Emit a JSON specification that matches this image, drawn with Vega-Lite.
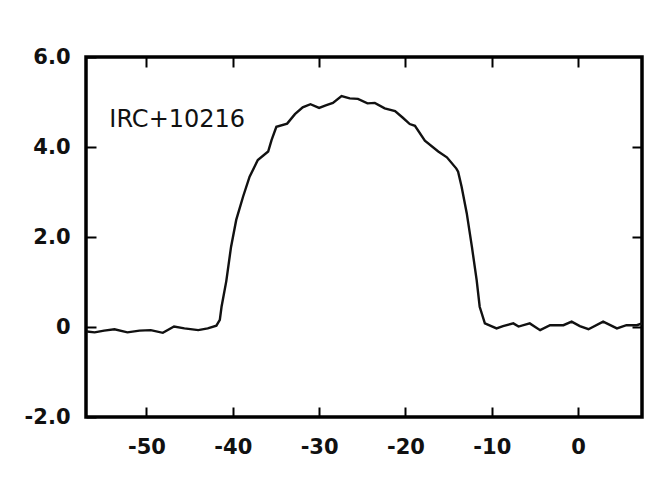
{
  "$schema": "https://vega.github.io/schema/vega-lite/v6.json",
  "width": 556,
  "height": 360,
  "autosize": {"type": "none"},
  "padding": {"left": 86, "top": 57, "right": 8, "bottom": 70},
  "background": "white",
  "config": {
    "view": {"stroke": "black", "strokeWidth": 3.5},
    "font": "DejaVu Sans"
  },
  "datasets": {
    "spectrum": [
      {"v": -56.9, "t": -0.10}, {"v": -56.0, "t": -0.12}, {"v": -54.9, "t": -0.08}, {"v": -53.7, "t": -0.05},
      {"v": -52.2, "t": -0.12}, {"v": -50.8, "t": -0.08}, {"v": -49.5, "t": -0.07}, {"v": -48.1, "t": -0.13},
      {"v": -46.8, "t": 0.01}, {"v": -45.6, "t": -0.03}, {"v": -44.0, "t": -0.07}, {"v": -42.9, "t": -0.03},
      {"v": -41.9, "t": 0.03}, {"v": -41.5, "t": 0.16}, {"v": -41.3, "t": 0.45}, {"v": -40.75, "t": 1.02},
      {"v": -40.2, "t": 1.78}, {"v": -39.6, "t": 2.38}, {"v": -38.8, "t": 2.90}, {"v": -38.05, "t": 3.34},
      {"v": -37.1, "t": 3.71}, {"v": -35.9, "t": 3.90}, {"v": -35.5, "t": 4.16}, {"v": -34.95, "t": 4.45},
      {"v": -33.7, "t": 4.52}, {"v": -32.8, "t": 4.73}, {"v": -31.9, "t": 4.88}, {"v": -31.0, "t": 4.95},
      {"v": -30.0, "t": 4.87}, {"v": -29.15, "t": 4.93}, {"v": -28.4, "t": 4.98}, {"v": -27.4, "t": 5.13},
      {"v": -26.45, "t": 5.08}, {"v": -25.5, "t": 5.07}, {"v": -24.4, "t": 4.97}, {"v": -23.55, "t": 4.98},
      {"v": -22.4, "t": 4.86}, {"v": -21.2, "t": 4.80}, {"v": -20.3, "t": 4.65}, {"v": -19.5, "t": 4.51},
      {"v": -18.9, "t": 4.47}, {"v": -17.75, "t": 4.14}, {"v": -16.2, "t": 3.90}, {"v": -15.2, "t": 3.77},
      {"v": -14.1, "t": 3.52}, {"v": -13.9, "t": 3.45}, {"v": -13.5, "t": 3.12}, {"v": -12.9, "t": 2.53},
      {"v": -12.3, "t": 1.78}, {"v": -11.75, "t": 1.04}, {"v": -11.4, "t": 0.45}, {"v": -10.8, "t": 0.08},
      {"v": -9.45, "t": -0.03}, {"v": -8.7, "t": 0.02}, {"v": -7.5, "t": 0.08}, {"v": -6.9, "t": 0.01},
      {"v": -5.6, "t": 0.08}, {"v": -4.4, "t": -0.07}, {"v": -3.25, "t": 0.04}, {"v": -1.7, "t": 0.04},
      {"v": -0.75, "t": 0.12}, {"v": 0.2, "t": 0.02}, {"v": 1.2, "t": -0.05}, {"v": 2.9, "t": 0.12},
      {"v": 4.5, "t": -0.03}, {"v": 5.6, "t": 0.04}, {"v": 6.8, "t": 0.04}, {"v": 7.4, "t": 0.08}
    ],
    "label": [{"v": -54.3, "t": 4.6, "text": "IRC+10216"}]
  },
  "resolve": {"axis": {"x": "independent", "y": "independent"}},
  "layer": [
    {
      "data": {"name": "spectrum"},
      "mark": {"type": "line", "color": "#111111", "strokeWidth": 2.4, "clip": true},
      "encoding": {
        "x": {
          "field": "v", "type": "quantitative",
          "scale": {"domain": [-57, 7.4], "nice": false, "zero": false},
          "axis": {
            "orient": "bottom", "title": null, "values": [-50, -40, -30, -20, -10, 0],
            "grid": false, "domain": false, "offset": -10,
            "ticks": true, "tickSize": 10, "tickWidth": 2, "tickColor": "black",
            "labelExpr": "datum.value + ''",
            "labelFontSize": 21, "labelFontWeight": "bold", "labelColor": "#111111",
            "labelPadding": 19, "labelFlush": false
          }
        },
        "y": {
          "field": "t", "type": "quantitative",
          "scale": {"domain": [-2, 6], "nice": false, "zero": false},
          "axis": {
            "orient": "left", "title": null, "values": [-2, 0, 2, 4, 6],
            "grid": false, "domain": false, "offset": -10,
            "ticks": true, "tickSize": 10, "tickWidth": 2, "tickColor": "black",
            "labelExpr": "datum.value == 0 ? '0' : (datum.value < 0 ? '-' : '') + abs(datum.value) + '.0'",
            "labelFontSize": 21, "labelFontWeight": "bold", "labelColor": "#111111",
            "labelPadding": 16, "labelFlush": false
          }
        }
      }
    },
    {
      "data": {"name": "label"},
      "mark": {"type": "text", "align": "left", "baseline": "middle", "fontSize": 24, "color": "#111111", "font": "DejaVu Sans"},
      "encoding": {
        "x": {
          "field": "v", "type": "quantitative",
          "axis": {
            "orient": "top", "title": null, "values": [-50, -40, -30, -20, -10, 0],
            "grid": false, "domain": false, "labels": false, "offset": -10,
            "ticks": true, "tickSize": 10, "tickWidth": 2, "tickColor": "black"
          }
        },
        "y": {
          "field": "t", "type": "quantitative",
          "axis": {
            "orient": "right", "title": null, "values": [0, 2, 4],
            "grid": false, "domain": false, "labels": false, "offset": -10,
            "ticks": true, "tickSize": 10, "tickWidth": 2, "tickColor": "black"
          }
        },
        "text": {"field": "text"}
      }
    }
  ]
}
